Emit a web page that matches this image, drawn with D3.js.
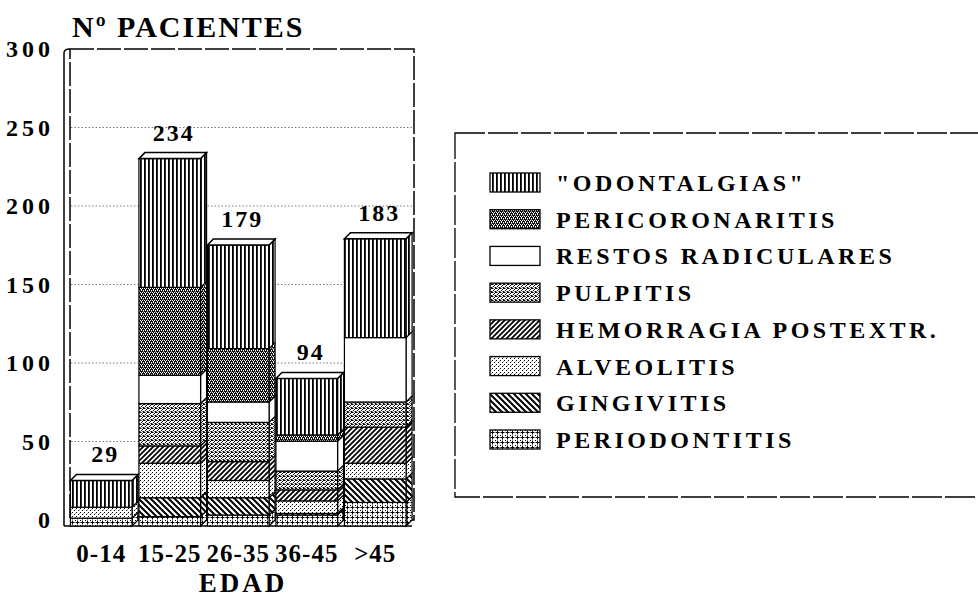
<!DOCTYPE html>
<html>
<head>
<meta charset="utf-8">
<script src="https://cdn.jsdelivr.net/npm/d3@7"></script>
<style>
  body { margin: 0; background: #fff; }
  text { font-family: "Liberation Serif", "Times New Roman", serif; font-weight: bold; fill: #000; }
</style>
</head>
<body>
<svg id="chart" width="978" height="599"></svg>
<script>
// data
const ages = ["0-14", "15-25", "26-35", "36-45", ">45"];
const causes = ["PERIODONTITIS", "GINGIVITIS", "ALVEOLITIS", "HEMORRAGIA POSTEXTR.",
  "PULPITIS", "RESTOS RADICULARES", "PERICORONARITIS", "\"ODONTALGIAS\""];
const periodontitis = [5, 6, 7, 7, 15];
const gingivitis = [0, 12, 11, 1, 15];
const alveolitis = [7, 22, 11, 8, 10];
const hemorragia = [0, 11, 12, 7, 23];
const pulpitis = [0, 27, 25, 12, 16];
const restos = [0, 18, 13, 19, 41];
const pericoronaritis = [0, 56, 34, 4, 0];
const odontalgias = [17, 82, 66, 36, 63];
const totals = [29, 234, 179, 94, 183];
const yTicks = [0, 50, 100, 150, 200, 250, 300];

const series = [periodontitis, gingivitis, alveolitis, hemorragia, pulpitis, restos, pericoronaritis, odontalgias];
const keys = ["periodontitis", "gingivitis", "alveolitis", "hemorragia", "pulpitis", "restos", "pericoronaritis", "odontalgias"];
const table = ages.map((a, i) => {
  const row = { age: a };
  keys.forEach((k, j) => (row[k] = series[j][i]));
  return row;
});

const svg = d3.select("#chart");
const defs = svg.append("defs");
const depth = 6;

// fill patterns (black & white hatchings)
function pat(id, w, h, bg, draw) {
  const p = defs.append("pattern").attr("id", id)
    .attr("patternUnits", "userSpaceOnUse").attr("width", w).attr("height", h);
  p.append("rect").attr("width", w).attr("height", h).attr("fill", bg);
  draw(p);
}
function dots(p, pts, col) {
  pts.forEach(([px, py]) => {
    p.append("rect").attr("x", px).attr("y", py).attr("width", 1).attr("height", 1).attr("fill", col);
  });
}
pat("p-odon", 4, 10, "#fff", (p) => {
  p.append("rect").attr("x", 0).attr("y", 0).attr("width", 1.8).attr("height", 10).attr("fill", "#000");
});
pat("p-peric", 4, 4, "#111", (p) => {
  dots(p, [[0, 0], [2, 0], [1, 2], [3, 2], [1, 1]], "#fff");
  dots(p, [[3, 3]], "#999");
});
pat("p-restos", 4, 4, "#fff", () => {});
pat("p-pulp", 4, 4, "#fff", (p) => {
  dots(p, [[0, 0], [2, 1], [1, 2], [3, 3], [3, 0]], "#000");
  dots(p, [[1, 0], [0, 3], [2, 3]], "#888");
});
pat("p-hemo", 5, 5, "#fff", (p) => {
  p.append("path").attr("d", "M-1,6 L6,-1 M-1,1 L1,-1 M4,6 L6,4")
    .attr("stroke", "#000").attr("stroke-width", 1.8);
});
pat("p-alv", 4, 4, "#fff", (p) => {
  dots(p, [[0, 0], [2, 2]], "#000");
  dots(p, [[3, 1]], "#999");
});
pat("p-ging", 6, 6, "#fff", (p) => {
  p.append("path").attr("d", "M-1,-1 L7,7 M-1,5 L1,7 M5,-1 L7,1")
    .attr("stroke", "#000").attr("stroke-width", 2);
});
pat("p-perio", 5, 5, "#fff", (p) => {
  p.append("path").attr("d", "M2.5,0.5 V4.5 M0.5,2.5 H4.5")
    .attr("stroke", "#000").attr("stroke-width", 1);
  dots(p, [[0, 0]], "#000");
});
const fills = {
  periodontitis: "url(#p-perio)", gingivitis: "url(#p-ging)", alveolitis: "url(#p-alv)",
  hemorragia: "url(#p-hemo)", pulpitis: "url(#p-pulp)", restos: "url(#p-restos)",
  pericoronaritis: "url(#p-peric)", odontalgias: "url(#p-odon)",
};

// scales: y is the back wall, the bar fronts sit depth px lower/left
const x = d3.scaleBand().domain(ages).range([67, 409.5]).paddingInner(0.1).paddingOuter(0.05);
const y = d3.scaleLinear().domain([0, 300]).range([520, 49]);
const yf = (v) => y(v) + depth;
const bw = x.bandwidth();

// frame (back wall)
const frame = svg.append("g");
frame.append("rect").attr("x", 70).attr("y", y(300)).attr("width", 414 - 70).attr("height", y(0) - y(300))
  .attr("fill", "none").attr("stroke", "#000").attr("stroke-width", 1.5)
  .attr("stroke-dasharray", "24,3");
frame.append("path")
  .attr("d", `M64,${yf(0)} V${y(300) + 4} Q64,${y(300)} 70,${y(300)}`)
  .attr("fill", "none").attr("stroke", "#000").attr("stroke-width", 1.5);
frame.append("line").attr("x1", 64).attr("x2", 412).attr("y1", yf(0)).attr("y2", yf(0))
  .attr("stroke", "#000").attr("stroke-width", 1.5);

// gridlines
svg.append("g").selectAll("line").data(yTicks.filter((t) => t > 0 && t < 300)).join("line")
  .attr("x1", 71).attr("x2", 413).attr("y1", (d) => y(d)).attr("y2", (d) => y(d))
  .attr("stroke", "#555").attr("stroke-width", 0.8).attr("stroke-dasharray", "1.5,2");

// y tick labels
svg.append("g").selectAll("text").data(yTicks).join("text")
  .attr("x", 54).attr("y", (d) => y(d) + 8).attr("text-anchor", "end")
  .style("font-size", "24px").style("letter-spacing", "4px")
  .text((d) => d);

// stacked bars
const stack = d3.stack().keys(keys)(table);
const bars = svg.append("g");
stack.forEach((layer) => {
  layer.forEach((d, i) => {
    if (d[1] - d[0] <= 0) return;
    const x0 = x(ages[i]);
    const top = yf(d[1]);
    const bot = yf(d[0]);
    // side
    bars.append("path")
      .attr("d", `M${x0 + bw},${top} L${x0 + bw + depth},${top - depth} L${x0 + bw + depth},${bot - depth} L${x0 + bw},${bot} Z`)
      .attr("fill", fills[layer.key]).attr("stroke", "#000").attr("stroke-width", 1.2);
    // front
    bars.append("rect").attr("x", x0).attr("y", top).attr("width", bw).attr("height", bot - top)
      .attr("fill", fills[layer.key]).attr("stroke", "#000").attr("stroke-width", 1.2);
  });
});
// top faces
bars.selectAll("path.top").data(totals).join("path").attr("class", "top")
  .attr("d", (d, i) => {
    const x0 = x(ages[i]);
    const t = yf(d);
    return `M${x0},${t} L${x0 + depth},${t - depth} L${x0 + bw + depth},${t - depth} L${x0 + bw},${t} Z`;
  })
  .attr("fill", "#fff").attr("stroke", "#000").attr("stroke-width", 1.5);

// value labels
svg.append("g").selectAll("text").data(totals).join("text")
  .attr("x", (d, i) => x(ages[i]) + bw / 2 + 4).attr("y", (d) => yf(d) - depth - 12)
  .attr("text-anchor", "middle").style("font-size", "24px").style("letter-spacing", "2px")
  .text((d) => d);

// x labels
svg.append("g").selectAll("text").data(ages).join("text")
  .attr("x", (d) => x(d) + bw / 2).attr("y", 562)
  .attr("text-anchor", "middle").style("font-size", "25px").style("letter-spacing", "1px")
  .text((d) => d);

svg.append("text").attr("x", 243).attr("y", 592).attr("text-anchor", "middle")
  .style("font-size", "27px").style("letter-spacing", "3px").text("EDAD");
svg.append("text").attr("x", 72).attr("y", 37)
  .style("font-size", "30px").style("letter-spacing", "2px").text("Nº PACIENTES");

// legend
const legend = svg.append("g");
legend.append("rect").attr("x", 455).attr("y", 133).attr("width", 540).attr("height", 364)
  .attr("fill", "none").attr("stroke", "#000").attr("stroke-width", 1.3)
  .attr("stroke-dasharray", "30,3");
const legendKeys = keys.slice().reverse();
const legendNames = causes.slice().reverse();
const ly = d3.scalePoint().domain(legendKeys).range([183, 440]);
legend.selectAll("rect.sw").data(legendKeys).join("rect").attr("class", "sw")
  .attr("x", 490).attr("y", (d) => ly(d) - 10).attr("width", 50).attr("height", 19)
  .attr("fill", (d) => fills[d]).attr("stroke", "#000").attr("stroke-width", 1.3);
legend.selectAll("text").data(legendKeys).join("text")
  .attr("x", 556).attr("y", (d) => ly(d) + 8)
  .style("font-size", "24px").style("letter-spacing", "3.5px")
  .text((d, i) => legendNames[i]);
</script>
</body>
</html>
